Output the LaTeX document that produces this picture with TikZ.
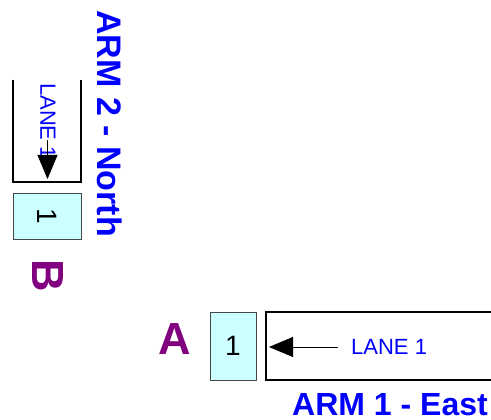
\documentclass[tikz,border=0pt]{standalone}
\usepackage{fontspec}
\setmainfont{Liberation Sans}
\usepackage{tikz}
\usetikzlibrary{arrows.meta}
\usepackage{xcolor}
\definecolor{armblue}{RGB}{0,0,255}
\definecolor{legpurple}{RGB}{128,0,128}
\definecolor{lanecyan}{RGB}{204,255,255}
\definecolor{edgegray}{RGB}{70,70,70}

\begin{document}
\begin{tikzpicture}[x=1pt, y=-1pt, every node/.style={inner sep=0pt},
    lanenum/.style={draw=edgegray, fill=lanecyan, line width=0.8pt, minimum width=46pt, minimum height=68pt, font=\fontsize{28}{28}\selectfont},
    armlabel/.style={text=armblue, font=\fontsize{32}{32}\selectfont\bfseries},
    leg/.style={text=legpurple, font=\fontsize{45}{45}\selectfont\bfseries},
    lanetext/.style={text=armblue, font=\fontsize{22}{22}\selectfont},
    flow/.style={-{Triangle[length=24pt, width=20pt]}, line width=0.8pt}]
  \useasboundingbox (0,0) rectangle (491,420);
  % arm 2 (north)
  \draw[line width=1.3pt] (13,80) -- (13,182) -- (81,182) -- (81,80);
  \node[lanetext, rotate=-90, anchor=west] (laneN) at (48,83) {LANE 1};
  \coordinate (fromN) at (47.5,140);
  \coordinate (toN) at (47.5,179);
  \draw[flow] (fromN) -- (toN);
  \node[lanenum, rotate=-90] (numN) at (47.5,216) {1};
  \node[leg, rotate=-90] (legB) at (47.5,275.5) {B};
  \node[armlabel, font=\fontsize{34}{34}\selectfont\bfseries, rotate=-90, anchor=base west] (armN) at (97,10) {ARM 2 - North};
  % arm 1 (east)
  \draw[line width=1.3pt] (491,312) -- (266,312) -- (266,380) -- (491,380);
  \node[lanetext, anchor=west] (laneE) at (351,347) {LANE 1};
  \coordinate (fromE) at (338,347);
  \coordinate (toE) at (269,347);
  \draw[flow] (fromE) -- (toE);
  \node[lanenum] (numE) at (233,346) {1};
  \node[leg] (legA) at (175,339) {A};
  \node[armlabel, anchor=base] (armE) at (390,415) {ARM 1 - East};
\end{tikzpicture}
\end{document}
